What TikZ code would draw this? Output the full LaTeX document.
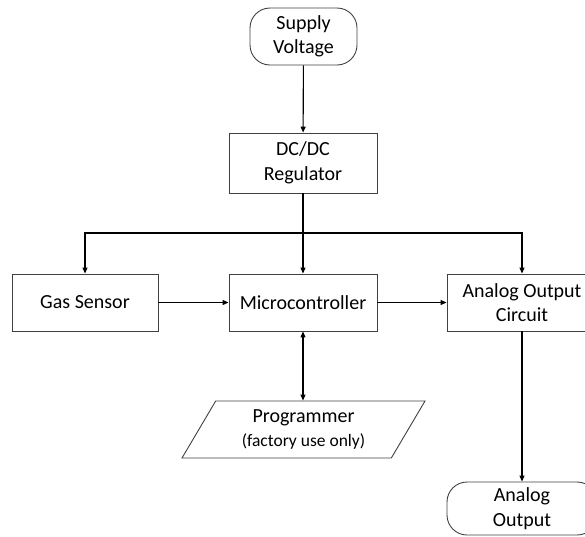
\documentclass[tikz,border=0pt]{standalone}
\usepackage{fontspec}
\setmainfont{Carlito}
\usetikzlibrary{shapes.geometric,arrows.meta}
\begin{document}
\begin{tikzpicture}[x=1pt,y=-1pt,
  every node/.style={font=\fontsize{20}{24.5}\selectfont, align=center, inner sep=0pt},
  blk/.style={draw=black!75, line width=0.9pt, minimum width=148pt, minimum height=57pt},
  term/.style={draw=black!75, line width=0.9pt, rounded corners=20pt},
  prg/.style={draw=black!75, line width=0.9pt, trapezium, trapezium left angle=50, trapezium right angle=130, trapezium stretches body, minimum width=243pt, minimum height=57pt},
  arr/.style={line width=1.1pt, -{Triangle[length=6pt,width=5pt]}},
  darr/.style={line width=1.1pt, {Triangle[length=6pt,width=5pt]}-{Triangle[length=6pt,width=5pt]}}]
\useasboundingbox (0,0) rectangle (585,536);
\node[term, minimum width=107pt, minimum height=57pt] (sup) at (303.5,36.5) {Supply\\Voltage};
\node[blk, minimum height=60pt] (dc) at (303,163) {DC/DC\\Regulator};
\node[blk, minimum width=146pt] (gas) at (85,302.5) {Gas Sensor};
\node[blk] (mcu) at (303,302.5) {Microcontroller};
\node[blk, minimum width=150pt] (aoc) at (522,302.5) {Analog Output\\Circuit};
\node[prg] (prog) at (303.5,429.5) {Programmer\\{\fontsize{17.5}{22}\selectfont (factory use only)}};
\node[term, minimum width=150pt, minimum height=53pt] (ao) at (522,508.5) {Analog\\Output};
\coordinate (br) at (303,233);
\draw[arr] (sup) -- (dc);
\draw[arr] (dc) -- (mcu);
\draw[arr] (br) -| (gas);
\draw[arr] (br) -| (aoc);
\draw[arr] (gas) -- (mcu);
\draw[arr] (mcu) -- (aoc);
\draw[darr] (mcu.south) -- (mcu.south |- prog.north);
\draw[arr] (aoc) -- (ao);
\end{tikzpicture}
\end{document}
